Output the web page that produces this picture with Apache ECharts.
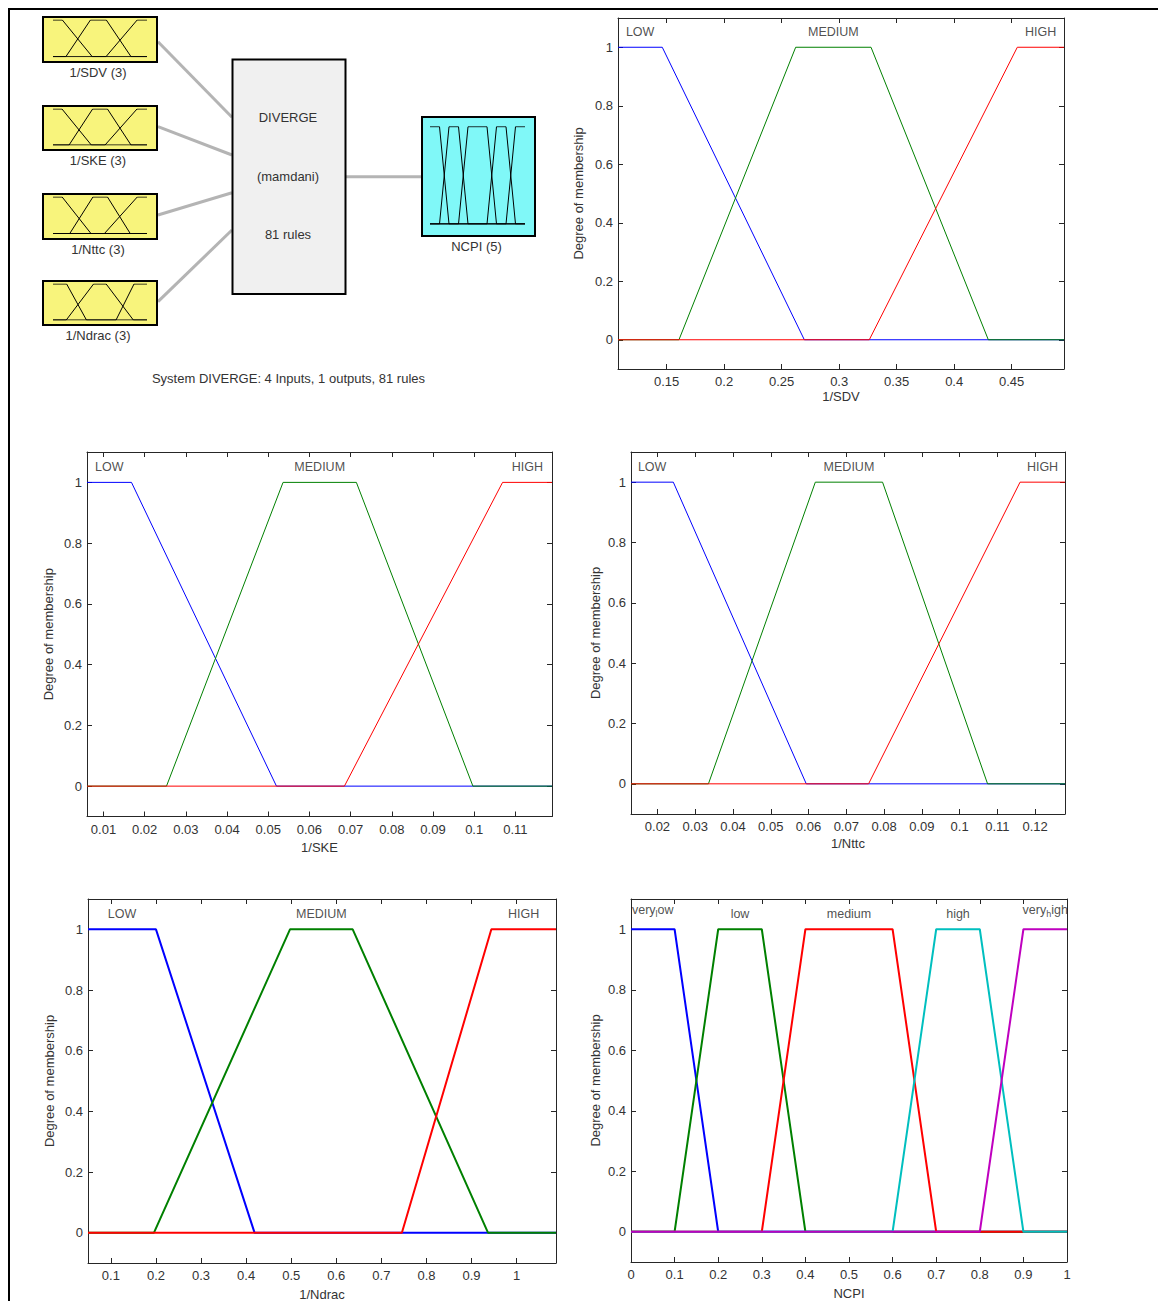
<!DOCTYPE html>
<html>
<head>
<meta charset="utf-8">
<script src="https://cdn.jsdelivr.net/npm/echarts@6/dist/echarts.min.js"></script>
<style>
  html, body { margin: 0; padding: 0; background: #ffffff; }
  #chart { width: 1158px; height: 1301px; }
</style>
</head>
<body>
<div id="chart"></div>
<script>
// ---------- data ----------
// universe of discourse of each variable
const SDV_RANGE = [0.1077, 0.4955];
const SKE_RANGE = [0.0060, 0.1189];
const NTTC_RANGE = [0.0130, 0.1279];
const NDRAC_RANGE = [0.0492, 1.0874];
const NCPI_RANGE = [0, 1];

// tick values
const SDV_TICKS = [0.15, 0.2, 0.25, 0.3, 0.35, 0.4, 0.45];
const SKE_TICKS = [0.01, 0.02, 0.03, 0.04, 0.05, 0.06, 0.07, 0.08, 0.09, 0.1, 0.11];
const NTTC_TICKS = [0.02, 0.03, 0.04, 0.05, 0.06, 0.07, 0.08, 0.09, 0.1, 0.11, 0.12];
const NDRAC_TICKS = [0.1, 0.2, 0.3, 0.4, 0.5, 0.6, 0.7, 0.8, 0.9, 1];
const NCPI_TICKS = [0, 0.1, 0.2, 0.3, 0.4, 0.5, 0.6, 0.7, 0.8, 0.9, 1];
const MEMBERSHIP_TICKS = [0, 0.2, 0.4, 0.6, 0.8, 1];

// linguistic terms
const INPUT_TERMS = ['LOW', 'MEDIUM', 'HIGH'];
const OUTPUT_TERMS = ['very_low', 'low', 'medium', 'high', 'very_high'];

// membership functions as [x, degree] vertices
const SDV_LOW    = [[0.1077, 1], [0.1462, 1], [0.2697, 0], [0.4955, 0]];
const SDV_MEDIUM = [[0.1077, 0], [0.1607, 0], [0.2622, 1], [0.3277, 1], [0.4297, 0], [0.4955, 0]];
const SDV_HIGH   = [[0.1077, 0], [0.3262, 0], [0.4549, 1], [0.4955, 1]];

const SKE_LOW    = [[0.0060, 1], [0.0168, 1], [0.0520, 0], [0.1189, 0]];
const SKE_MEDIUM = [[0.0060, 0], [0.0253, 0], [0.0536, 1], [0.0714, 1], [0.0997, 0], [0.1189, 0]];
const SKE_HIGH   = [[0.0060, 0], [0.0685, 0], [0.1069, 1], [0.1189, 1]];

const NTTC_LOW    = [[0.0130, 1], [0.0242, 1], [0.0594, 0], [0.1279, 0]];
const NTTC_MEDIUM = [[0.0130, 0], [0.0335, 0], [0.0618, 1], [0.0796, 1], [0.1074, 0], [0.1279, 0]];
const NTTC_HIGH   = [[0.0130, 0], [0.0759, 0], [0.1160, 1], [0.1279, 1]];

const NDRAC_LOW    = [[0.0492, 1], [0.2000, 1], [0.4186, 0], [1.0874, 0]];
const NDRAC_MEDIUM = [[0.0492, 0], [0.1956, 0], [0.4973, 1], [0.6364, 1], [0.9365, 0], [1.0874, 0]];
const NDRAC_HIGH   = [[0.0492, 0], [0.7455, 0], [0.9440, 1], [1.0874, 1]];

const NCPI_VERY_LOW  = [[0, 1], [0.1, 1], [0.2, 0], [1, 0]];
const NCPI_LOW       = [[0, 0], [0.1, 0], [0.2, 1], [0.3, 1], [0.4, 0], [1, 0]];
const NCPI_MEDIUM    = [[0, 0], [0.3, 0], [0.4, 1], [0.6, 1], [0.7, 0], [1, 0]];
const NCPI_HIGH      = [[0, 0], [0.6, 0], [0.7, 1], [0.8, 1], [0.9, 0], [1, 0]];
const NCPI_VERY_HIGH = [[0, 0], [0.8, 0], [0.9, 1], [1, 1]];

// ---------- styling ----------
const FONT = "'Liberation Sans', Arial, Helvetica, sans-serif";
const MF_COLORS = ['#0000ff', '#008000', '#ff0000', '#00bfbf', '#bf00bf'];
const AXIS_COLOR = '#262626';
const TEXT_COLOR = '#333333';
const INPUT_FILL = '#f8f47c';
const OUTPUT_FILL = '#80f8f8';

// membership plots: variable, layout of its axes box
const PLOTS = [
  { name: '1/SDV',   range: SDV_RANGE,   ticks: SDV_TICKS,   mfs: [SDV_LOW, SDV_MEDIUM, SDV_HIGH],       terms: INPUT_TERMS,
    box: { left: 618, top: 18,  width: 446, height: 351 }, lw: 1, xGap: 21, yGap: 33 },
  { name: '1/SKE',   range: SKE_RANGE,   ticks: SKE_TICKS,   mfs: [SKE_LOW, SKE_MEDIUM, SKE_HIGH],       terms: INPUT_TERMS,
    box: { left: 87,  top: 452, width: 465, height: 364.5 }, lw: 1, xGap: 24, yGap: 32 },
  { name: '1/Nttc',  range: NTTC_RANGE,  ticks: NTTC_TICKS,  mfs: [NTTC_LOW, NTTC_MEDIUM, NTTC_HIGH],    terms: INPUT_TERMS,
    box: { left: 631, top: 452, width: 434, height: 362 }, lw: 1, xGap: 23, yGap: 29.5 },
  { name: '1/Ndrac', range: NDRAC_RANGE, ticks: NDRAC_TICKS, mfs: [NDRAC_LOW, NDRAC_MEDIUM, NDRAC_HIGH], terms: INPUT_TERMS,
    box: { left: 88,  top: 899, width: 468, height: 364 }, lw: 2, xGap: 24.5, yGap: 32 },
  { name: 'NCPI',    range: NCPI_RANGE,  ticks: NCPI_TICKS,  mfs: [NCPI_VERY_LOW, NCPI_LOW, NCPI_MEDIUM, NCPI_HIGH, NCPI_VERY_HIGH], terms: OUTPUT_TERMS,
    box: { left: 631, top: 899, width: 436, height: 363 }, lw: 2, xGap: 25, yGap: 29.5 }
];

// small membership pictures inside the block diagram
const ICONS = [
  { plot: 0, box: { x: 43, y: 17,  w: 114, h: 45 }, inner: { left: 53, top: 20,    width: 94, height: 36.7 }, fill: INPUT_FILL,  label: '1/SDV (3)' },
  { plot: 1, box: { x: 43, y: 106, w: 114, h: 44 }, inner: { left: 53, top: 109,   width: 94, height: 36 },   fill: INPUT_FILL,  label: '1/SKE (3)' },
  { plot: 2, box: { x: 43, y: 194, w: 114, h: 45 }, inner: { left: 53, top: 197,   width: 94, height: 36.5 }, fill: INPUT_FILL,  label: '1/Nttc (3)' },
  { plot: 3, box: { x: 43, y: 281, w: 114, h: 44 }, inner: { left: 53, top: 284,   width: 94, height: 36 },   fill: INPUT_FILL,  label: '1/Ndrac (3)' },
  { plot: 4, box: { x: 422, y: 117, w: 113, h: 119 }, inner: { left: 430, top: 126.7, width: 95, height: 97.3 }, fill: OUTPUT_FILL, label: 'NCPI (5)' }
];

// ---------- helpers ----------
function plateauMid(pts) {
  const xs = pts.filter(p => p[1] === 1).map(p => p[0]);
  return (Math.min(...xs) + Math.max(...xs)) / 2;
}
// "very_low" -> "very" + subscript "l" + "ow"
function texRich(term) {
  const m = term.match(/^(.*?)_(.)(.*)$/);
  if (!m) return '{n|' + term + '}';
  return '{n|' + m[1] + '}{s|' + m[2] + '}{n|' + m[3] + '}';
}
const fmt = v => String(+(+v).toFixed(6));

const grids = [], xAxes = [], yAxes = [], series = [];

PLOTS.forEach((p, i) => {
  const gi = grids.length;
  grids.push({ left: p.box.left, top: p.box.top, width: p.box.width, height: p.box.height,
               containLabel: false, outerBoundsMode: 'none' });
  const tickStyle = { show: true, inside: true, length: 5, lineStyle: { color: AXIS_COLOR, width: 1 } };
  const lineStyle = { show: true, onZero: false, lineStyle: { color: AXIS_COLOR, width: 1 } };
  const xi = xAxes.length;
  xAxes.push({
    type: 'value', gridIndex: gi, min: p.range[0], max: p.range[1], position: 'bottom',
    name: p.name, nameLocation: 'middle', nameGap: p.xGap,
    nameTextStyle: { fontFamily: FONT, fontSize: 13, color: TEXT_COLOR },
    axisLine: lineStyle,
    axisTick: Object.assign({ customValues: p.ticks }, tickStyle),
    axisLabel: { show: true, customValues: p.ticks, margin: 6, fontFamily: FONT, fontSize: 13,
                 color: TEXT_COLOR, formatter: fmt, hideOverlap: false },
    splitLine: { show: false }
  });
  xAxes.push({
    type: 'value', gridIndex: gi, min: p.range[0], max: p.range[1], position: 'top',
    axisLine: lineStyle,
    axisTick: Object.assign({ customValues: p.ticks }, tickStyle),
    axisLabel: { show: false }, splitLine: { show: false }
  });
  const yi = yAxes.length;
  yAxes.push({
    type: 'value', gridIndex: gi, min: -0.1, max: 1.1, position: 'left',
    name: 'Degree of membership', nameLocation: 'middle', nameGap: p.yGap, nameRotate: 90,
    nameTextStyle: { fontFamily: FONT, fontSize: 13, color: TEXT_COLOR },
    axisLine: lineStyle,
    axisTick: Object.assign({ customValues: MEMBERSHIP_TICKS }, tickStyle),
    axisLabel: { show: true, customValues: MEMBERSHIP_TICKS, margin: 5, fontFamily: FONT, fontSize: 13,
                 color: TEXT_COLOR, formatter: fmt, hideOverlap: false },
    splitLine: { show: false }
  });
  yAxes.push({
    type: 'value', gridIndex: gi, min: -0.1, max: 1.1, position: 'right',
    axisLine: lineStyle,
    axisTick: Object.assign({ customValues: MEMBERSHIP_TICKS }, tickStyle),
    axisLabel: { show: false }, splitLine: { show: false }
  });

  p.mfs.forEach((mf, k) => {
    series.push({
      type: 'line', xAxisIndex: xi, yAxisIndex: yi, data: mf,
      showSymbol: false, symbol: 'none', silent: true, animation: false,
      lineStyle: { color: MF_COLORS[k], width: p.lw }
    });
  });

  // term names above the plateau of each membership function
  series.push({
    type: 'scatter', xAxisIndex: xi, yAxisIndex: yi, silent: true, animation: false,
    symbolSize: 1, itemStyle: { color: 'rgba(0,0,0,0)' },
    data: p.terms.map((t, k) => ({ name: t, value: [plateauMid(p.mfs[k]), 1] })),
    label: {
      show: true, position: 'inside', offset: [0, -15],
      formatter: d => texRich(d.name),
      rich: {
        n: { fontFamily: FONT, fontSize: 12.5, color: '#222222', lineHeight: 14, verticalAlign: 'top' },
        s: { fontFamily: FONT, fontSize: 9, color: '#222222', lineHeight: 22, verticalAlign: 'middle' }
      }
    }
  });
});

// membership pictures in the block diagram
ICONS.forEach(ic => {
  const p = PLOTS[ic.plot];
  const gi = grids.length;
  grids.push({ left: ic.inner.left, top: ic.inner.top, width: ic.inner.width, height: ic.inner.height,
               containLabel: false, outerBoundsMode: 'none' });
  const xi = xAxes.length;
  xAxes.push({ type: 'value', gridIndex: gi, min: p.range[0], max: p.range[1], show: false });
  const yi = yAxes.length;
  yAxes.push({ type: 'value', gridIndex: gi, min: 0, max: 1, show: false });
  p.mfs.forEach(mf => {
    series.push({
      type: 'line', xAxisIndex: xi, yAxisIndex: yi, data: mf,
      showSymbol: false, symbol: 'none', silent: true, animation: false,
      lineStyle: { color: '#000000', width: 1 }
    });
  });
});

// ---------- block diagram ----------
const diagText = (text, x, y) => ({
  type: 'text', silent: true,
  style: { text, x, y, font: '13px ' + FONT, fill: TEXT_COLOR,
           textAlign: 'center', textVerticalAlign: 'middle', align: 'center', verticalAlign: 'middle' }
});
const link = (x1, y1, x2, y2) => ({
  type: 'line', silent: true, shape: { x1, y1, x2, y2 },
  style: { stroke: '#b4b4b4', lineWidth: 3 }
});

const graphics = [
  // frame around the figure
  { type: 'polyline', silent: true, shape: { points: [[9, 1301], [9, 9], [1158, 9]] },
    style: { stroke: '#000000', lineWidth: 2, fill: null } },
  link(158, 41.7, 232, 117.3),
  link(158, 126.7, 232, 155),
  link(158, 215, 232, 192.7),
  link(158, 301.7, 232, 230),
  link(346, 176.7, 422, 176.7),
  { type: 'rect', silent: true, shape: { x: 232.5, y: 59.5, width: 113, height: 234.5 },
    style: { fill: '#f0f0f0', stroke: '#000000', lineWidth: 2 } },
  diagText('DIVERGE', 288, 117.3),
  diagText('(mamdani)', 288, 176),
  diagText('81 rules', 288, 234.3),
  diagText('System DIVERGE: 4 Inputs, 1 outputs, 81 rules', 288.5, 378.3)
];
ICONS.forEach(ic => {
  graphics.push({ type: 'rect', silent: true, shape: { x: ic.box.x, y: ic.box.y, width: ic.box.w, height: ic.box.h },
                  style: { fill: ic.fill, stroke: '#000000', lineWidth: 2 } });
  graphics.push(diagText(ic.label, ic.box.x + ic.box.w / 2 - 2, ic.box.y + ic.box.h + 10.5));
});

const chart = echarts.init(document.getElementById('chart'), null, { renderer: 'svg' });
chart.setOption({
  backgroundColor: '#ffffff',
  animation: false,
  grid: grids,
  xAxis: xAxes,
  yAxis: yAxes,
  series: series,
  graphic: { elements: graphics }
});
</script>
</body>
</html>
